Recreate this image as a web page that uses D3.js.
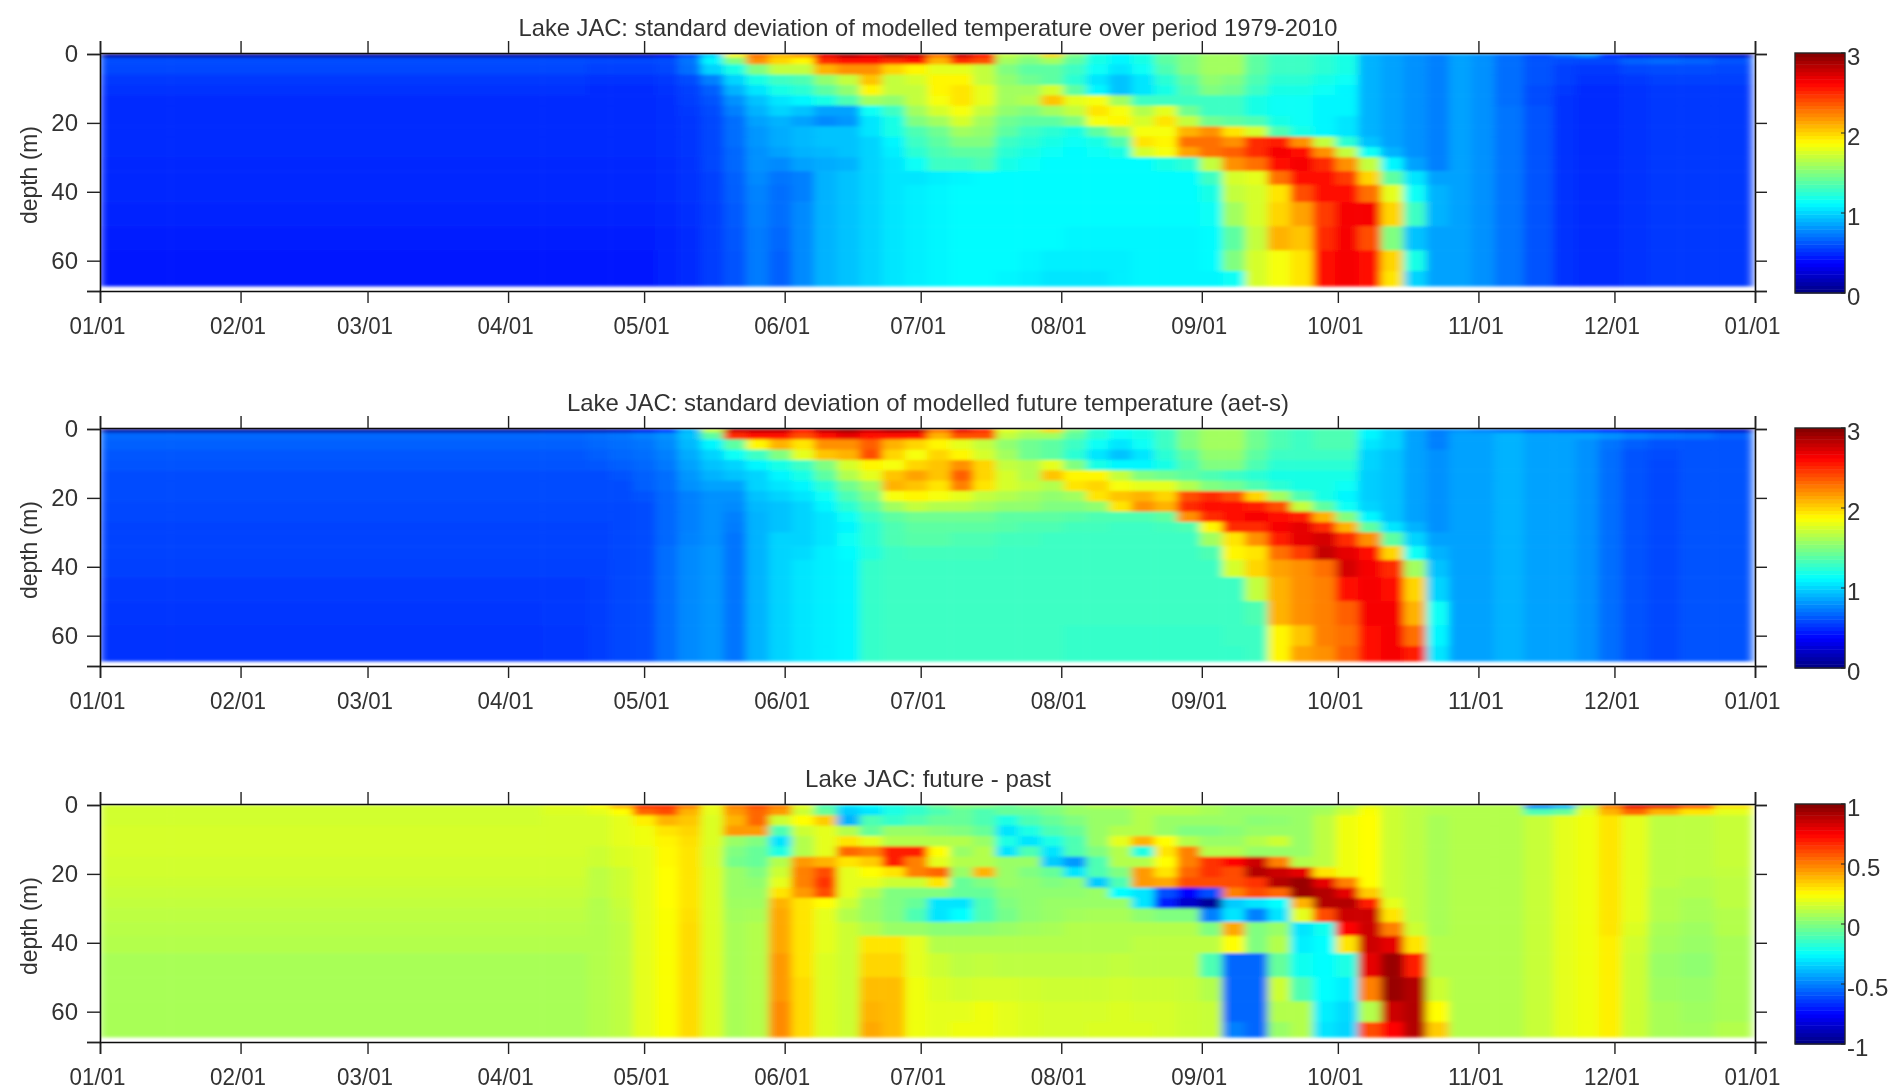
<!DOCTYPE html>
<html><head><meta charset="utf-8">
<script src="https://cdn.jsdelivr.net/npm/d3@7"></script>
<style>html,body{margin:0;background:#fff}svg{display:block}text{font-family:"Liberation Sans",Arial,sans-serif;fill:#333}</style>
</head><body><div id="c"></div>
<script>
const sampleDays=[0,31,59,90,105, 110,115,120,125,130,135,140,145, 150,155,160,165,170,175,180,185, 190,195,200,205,210,215,220,225, 230,235,240,245,250,255,260,265, 270,275,280,285,290,295,300,305, 310,318,323,328,333,338,345,352,360];
const depthEdges=[0,1,3,6,9,12,15,18,21,24,27,30,34,38,43,50,57,63,67.3];
const monthDays=[0,31,59,90,120,151,181,212,243,273,304,334,365];
const monthLabels=["01/01","02/01","03/01","04/01","05/01","06/01","07/01","08/01","09/01","10/01","11/01","12/01","01/01"];
const depthTicks=[0,20,40,60,68.8];
const titles=["Lake JAC: standard deviation of modelled temperature over period 1979-2010","Lake JAC: standard deviation of modelled future temperature (aet-s)","Lake JAC: future - past"];
const sdPast=[
[.1,.1,.1,.1,.12, .14,.14,.18,.3,.6,1,1.9,2.3, 2.1,2.2,2.7,2.9,2.75,2.95,2.8,2.3, 2.8,2.6,1.7,1.6,2,1.5,1.2,1.1, 1.2,1.4,1.5,1.6,1.6,1.4,1.3,1.3, 1.25,1.2,.9,.85,.8,.75,.85,.8, .7,.6,.7,.8,.5,.3,.25,.2,.2],
[.6,.6,.6,.6,.6, .58,.58,.58,.6,.72,1.1,1.5,2.2, 2,1.9,2.5,2.6,2.6,2.5,2.6,2.1, 2.5,2.4,1.6,1.5,1.6,1.4,1.2,1.1, 1.2,1.4,1.5,1.6,1.6,1.4,1.3,1.3, 1.25,1.2,.9,.85,.8,.75,.85,.8, .7,.62,.6,.58,.58,.66,.68,.66,.62],
[.58,.58,.58,.58,.58, .56,.56,.56,.58,.7,1,1.2,1.5, 1.7,1.7,2.1,2.2,2.2,2,1.9,1.8, 1.8,1.7,1.5,1.4,1.4,1.3,1.15,1.05, 1.15,1.35,1.5,1.6,1.6,1.4,1.3,1.3, 1.25,1.2,.9,.85,.8,.75,.85,.8, .7,.62,.56,.54,.54,.58,.6,.6,.58],
[.54,.54,.54,.54,.54, .52,.52,.52,.54,.6,.75,1,1.2, 1.3,1.35,1.55,1.7,2.05,1.7,1.75,1.9, 1.9,1.7,1.55,1.45,1.4,1.25,1.05,.95, 1.05,1.25,1.4,1.55,1.5,1.35,1.25,1.25, 1.2,1.15,.9,.85,.8,.75,.85,.8, .7,.62,.56,.52,.52,.54,.56,.56,.56],
[.52,.52,.52,.52,.52, .5,.5,.5,.52,.56,.65,.9,1.05, 1.2,1.25,1.4,1.55,1.9,1.7,1.7,1.9, 1.95,1.8,1.6,1.6,1.75,1.4,1.1,.95, 1.05,1.2,1.35,1.5,1.45,1.3,1.2,1.2, 1.15,1.1,.9,.85,.8,.75,.85,.8, .7,.6,.54,.5,.5,.52,.54,.54,.54],
[.5,.5,.5,.5,.5, .5,.5,.5,.51,.55,.62,.8,.95, 1.05,1.1,1.2,1.35,1.6,1.55,1.7,1.85, 1.95,1.8,1.6,1.65,2.05,1.8,1.85,1.6, 1.3,1.3,1.3,1.3,1.3,1.2,1.15,1.15, 1.1,1.1,.9,.85,.8,.75,.85,.8, .7,.6,.52,.5,.5,.52,.54,.54,.54],
[.5,.5,.5,.5,.5, .5,.5,.5,.51,.54,.6,.75,.9, 1,.95,.85,.85,1.15,1.3,1.6,1.75, 1.85,1.7,1.55,1.5,1.6,1.7,1.95,1.85, 1.65,1.8,1.45,1.3,1.3,1.2,1.15,1.15, 1.1,1.1,.9,.85,.8,.75,.85,.8, .72,.62,.52,.5,.5,.52,.54,.54,.54],
[.5,.5,.5,.5,.5, .5,.5,.5,.51,.53,.58,.7,.85, .9,.85,.78,.82,1.05,1.2,1.5,1.6, 1.75,1.6,1.45,1.4,1.4,1.5,1.85,1.9, 1.75,1.95,1.7,1.45,1.4,1.35,1.2,1.15, 1.1,1.05,.9,.85,.8,.75,.85,.8, .72,.62,.52,.5,.5,.52,.54,.54,.54],
[.5,.5,.5,.5,.5, .5,.5,.5,.51,.53,.58,.7,.82, .88,.92,.95,.95,1.05,1.2,1.35,1.45, 1.6,1.55,1.4,1.3,1.25,1.2,1.4,1.6, 1.85,1.85,2.1,2.2,1.95,1.75,1.35,1.2, 1.1,1.05,.9,.85,.8,.75,.85,.8, .72,.62,.52,.5,.5,.52,.54,.54,.54],
[.5,.5,.5,.5,.5, .5,.5,.5,.51,.53,.58,.7,.82, .88,.92,.95,.95,1,1.1,1.3,1.4, 1.5,1.5,1.3,1.25,1.2,1.15,1.2,1.35, 1.95,1.9,2.3,2.3,2.2,2.5,2.55,2.2, 1.7,1.25,.95,.85,.8,.75,.85,.8, .72,.62,.52,.5,.5,.52,.54,.54,.54],
[.5,.5,.5,.5,.5, .5,.5,.5,.51,.53,.58,.68,.8, .85,.9,.92,.95,1,1.08,1.25,1.35, 1.4,1.4,1.25,1.2,1.15,1.12,1.15,1.2, 1.75,1.85,2.15,2.3,2.35,2.5,2.65,2.6, 2.2,1.7,1.15,.9,.8,.75,.85,.8, .72,.62,.52,.5,.5,.52,.54,.54,.54],
[.49,.49,.49,.49,.49, .49,.49,.49,.5,.52,.58,.68,.8, .78,.85,.88,.9,1,1.05,1.15,1.3, 1.3,1.35,1.2,1.15,1.12,1.12,1.12,1.12, 1.12,1.2,1.25,1.7,2.2,2.3,2.6,2.65, 2.5,2.2,1.7,1.1,.85,.75,.85,.8, .72,.62,.52,.5,.5,.52,.54,.54,.54],
[.49,.49,.49,.49,.49, .49,.49,.49,.5,.52,.56,.66,.78, .72,.75,.9,.95,1,1.05,1.05,1.08, 1.1,1.12,1.12,1.12,1.12,1.12,1.12,1.12, 1.12,1.12,1.12,1.3,1.75,1.8,2.3,2.6, 2.6,2.45,2,1.4,1.05,.85,.85,.8, .72,.62,.52,.5,.5,.52,.54,.54,.54],
[.49,.49,.49,.49,.49, .49,.49,.49,.5,.52,.56,.65,.76, .7,.75,.9,.95,1,1.05,1.08,1.1, 1.12,1.12,1.12,1.12,1.12,1.12,1.12,1.12, 1.12,1.12,1.12,1.2,1.7,1.75,1.95,2.4, 2.6,2.6,2.3,1.8,1.15,.9,.85,.8, .72,.62,.52,.5,.5,.52,.54,.54,.54],
[.48,.48,.48,.48,.48, .48,.48,.48,.49,.51,.55,.64,.75, .7,.78,.9,.95,1,1.05,1.08,1.1, 1.12,1.12,1.12,1.12,1.12,1.12,1.12,1.12, 1.12,1.12,1.12,1.15,1.6,1.75,2,2.15, 2.45,2.65,2.65,2,1.3,.9,.85,.8, .72,.62,.52,.5,.5,.52,.54,.54,.54],
[.46,.46,.46,.46,.46, .46,.46,.46,.48,.5,.55,.63,.74, .68,.78,.9,.95,1,1.05,1.08,1.1, 1.12,1.12,1.12,1.12,1.12,1.1,1.1,1.1, 1.1,1.1,1.1,1.12,1.4,1.7,2.1,2.05, 2.5,2.65,2.4,1.5,.95,.85,.85,.8, .72,.62,.52,.5,.5,.52,.54,.54,.54],
[.45,.45,.45,.45,.45, .45,.45,.45,.47,.5,.55,.62,.74, .66,.78,.9,.95,1,1.05,1.08,1.1, 1.12,1.12,1.12,1.1,1.08,1.08,1.08,1.08, 1.1,1.1,1.1,1.12,1.5,1.75,1.85,1.95, 2.6,2.65,2.6,2,1.2,.85,.85,.8, .72,.62,.52,.5,.5,.52,.54,.54,.54],
[.45,.45,.45,.45,.45, .45,.45,.45,.47,.5,.55,.62,.74, .66,.78,.9,.95,1,1.05,1.08,1.1, 1.12,1.12,1.1,1.08,1.05,1.05,1.05,1.08, 1.1,1.1,1.1,1.1,1.15,1.75,1.85,1.95, 2.6,2.65,2.6,1.95,1,.85,.85,.8, .72,.62,.52,.5,.5,.52,.54,.54,.54]
];
const sdFuture=[
[.1,.1,.1,.1,.15, .15,.2,.3,.5,.9,1.7,2.8,2.85, 2.85,2.6,2.85,2.95,2.8,2.9,2.85,2.3, 2.7,2.5,1.8,1.7,2,1.5,1.25,1.15, 1.2,1.3,1.5,1.6,1.6,1.45,1.35,1.3, 1.35,1.35,1.1,1,.85,.75,.8,.75, .7,.6,.55,.5,.45,.35,.3,.25,.2],
[.68,.68,.68,.68,.68, .7,.72,.75,.8,.95,1.4,2.5,2.6, 2.6,2.4,2.6,2.7,2.6,2.6,2.6,2.1, 2.4,2.4,1.7,1.6,1.6,1.4,1.25,1.15, 1.2,1.3,1.5,1.6,1.6,1.45,1.35,1.3, 1.35,1.35,1.1,1,.85,.75,.85,.85, .9,.85,.85,.85,.8,.75,.72,.7,.65],
[.66,.66,.66,.66,.66, .68,.7,.72,.78,.92,1.1,1.4,1.9, 2.1,1.95,2.2,2.2,2.35,2.1,2,1.9, 1.8,1.7,1.55,1.45,1.4,1.3,1.15,1.05, 1.15,1.3,1.5,1.6,1.6,1.45,1.35,1.3, 1.35,1.35,1.05,1,.85,.75,.85,.85, .9,.85,.85,.8,.72,.65,.62,.62,.62],
[.63,.63,.63,.63,.63, .65,.68,.7,.75,.88,1,1.15,1.3, 1.5,1.8,2.05,2.1,2.4,2,1.85,2, 1.9,1.75,1.6,1.45,1.4,1.25,1.05,.95, 1.05,1.25,1.4,1.55,1.55,1.4,1.3,1.3, 1.3,1.3,1,.95,.85,.8,.85,.85, .9,.85,.85,.8,.7,.62,.6,.62,.62],
[.62,.62,.62,.62,.62, .63,.65,.68,.73,.85,.95,1,1.1, 1.2,1.3,1.5,1.75,1.9,1.85,2,2.05, 2.2,2,1.7,1.65,1.8,1.5,1.2,1.1, 1.1,1.2,1.35,1.5,1.5,1.35,1.25,1.25, 1.25,1.25,1,.95,.85,.8,.85,.85, .9,.85,.85,.8,.7,.62,.58,.62,.62],
[.6,.6,.6,.6,.6, .6,.62,.66,.7,.82,.9,.95,1, 1.1,1.2,1.4,1.65,1.8,2.05,2.15,2.05, 2.35,2,1.75,1.65,2.05,1.9,1.9,1.7, 1.5,1.45,1.4,1.35,1.3,1.25,1.2,1.2, 1.2,1.2,.98,.95,.85,.8,.85,.85, .9,.85,.85,.8,.7,.62,.58,.62,.62],
[.6,.6,.6,.6,.6, .6,.6,.65,.7,.8,.85,.85,1, 1.05,1.1,1.25,1.45,1.6,2.1,2.05,1.95, 2.25,1.95,1.75,1.7,1.65,1.95,2,1.85, 1.8,1.8,1.65,1.5,1.45,1.35,1.25,1.2, 1.2,1.15,.98,.95,.85,.8,.85,.85, .9,.85,.85,.8,.7,.62,.58,.62,.62],
[.6,.6,.6,.6,.6, .6,.6,.62,.68,.75,.8,.8,.95, 1,1.05,1.15,1.35,1.5,1.85,1.9,1.85, 1.8,1.7,1.65,1.6,1.55,1.6,1.95,2.05, 2.1,2,2.4,2.5,2.4,2,1.6,1.35, 1.2,1.1,.98,.95,.85,.8,.85,.85, .9,.85,.85,.8,.7,.62,.58,.62,.62],
[.58,.58,.58,.58,.58, .58,.58,.6,.68,.75,.8,.78,.92, .95,1,1.1,1.25,1.4,1.6,1.7,1.65, 1.65,1.6,1.55,1.55,1.5,1.5,1.55,1.95, 2.2,2.1,2.5,2.6,2.6,2.55,2.4,1.7, 1.4,1.15,1,.95,.85,.8,.85,.85, .9,.85,.85,.8,.7,.62,.58,.62,.62],
[.58,.58,.58,.58,.58, .58,.58,.6,.68,.75,.8,.75,.9, .95,1,1.05,1.15,1.3,1.4,1.45,1.45, 1.45,1.45,1.4,1.4,1.4,1.38,1.35,1.35, 1.35,1.4,2.2,2.5,2.6,2.65,2.6,2.55, 2.1,1.5,1.1,.95,.85,.8,.85,.85, .9,.85,.85,.8,.7,.62,.58,.62,.62],
[.57,.57,.57,.57,.57, .57,.58,.6,.68,.75,.8,.74,.9, .95,1,1.05,1.1,1.25,1.35,1.4,1.4, 1.4,1.4,1.38,1.35,1.35,1.32,1.32,1.3, 1.3,1.32,1.35,1.9,2.5,2.5,2.65,2.7, 2.5,2.1,1.4,1.05,.9,.8,.85,.85, .9,.85,.85,.8,.7,.62,.58,.62,.62],
[.57,.57,.57,.57,.57, .57,.58,.6,.68,.76,.8,.72,.9, 1,1,1.05,1.15,1.25,1.35,1.38,1.38, 1.35,1.35,1.32,1.32,1.3,1.3,1.3,1.3, 1.3,1.3,1.3,1.6,1.95,2.2,2.55,2.7, 2.75,2.5,2.2,1.4,1,.85,.85,.85, .9,.85,.85,.8,.7,.62,.58,.62,.62],
[.57,.57,.57,.57,.57, .57,.58,.6,.7,.78,.82,.72,.9, 1,1.02,1.08,1.12,1.22,1.3,1.32,1.32, 1.32,1.32,1.3,1.3,1.3,1.3,1.3,1.3, 1.3,1.3,1.3,1.35,1.9,1.95,2.3,2.45, 2.8,2.7,2.6,2,1.15,.9,.85,.85, .9,.85,.85,.8,.7,.62,.58,.62,.62],
[.56,.56,.56,.56,.56, .56,.58,.6,.7,.78,.82,.72,.9, 1,1.05,1.08,1.1,1.28,1.3,1.3,1.3, 1.3,1.3,1.3,1.3,1.3,1.3,1.3,1.3, 1.3,1.3,1.3,1.3,1.75,2,2.15,2.2, 2.3,2.75,2.65,2.5,1.6,.95,.85,.85, .9,.85,.85,.8,.7,.62,.58,.62,.62],
[.54,.54,.54,.54,.54, .55,.58,.6,.7,.78,.82,.72,.9, 1,1.05,1.08,1.1,1.28,1.3,1.3,1.3, 1.3,1.3,1.3,1.3,1.3,1.3,1.3,1.3, 1.3,1.3,1.3,1.3,1.3,1.7,2.1,2.2, 2.25,2.6,2.65,2.6,2,1,.85,.85, .9,.85,.85,.8,.7,.62,.58,.62,.62],
[.53,.53,.53,.53,.54, .55,.58,.6,.7,.78,.82,.72,.9, 1,1.05,1.08,1.1,1.28,1.3,1.3,1.3, 1.3,1.3,1.3,1.3,1.3,1.3,1.3,1.3, 1.3,1.3,1.3,1.3,1.3,1.35,2.1,2.2, 2.25,2.35,2.65,2.65,2.1,1.15,.85,.85, .9,.85,.85,.8,.7,.62,.58,.62,.62],
[.52,.52,.52,.52,.53, .55,.58,.6,.7,.78,.82,.72,.9, 1,1.05,1.08,1.1,1.28,1.3,1.3,1.3, 1.3,1.3,1.3,1.3,1.3,1.28,1.28,1.28, 1.28,1.28,1.28,1.28,1.3,1.3,1.9,2.05, 2.25,2.3,2.6,2.65,2.3,1.1,.85,.85, .9,.85,.85,.8,.7,.62,.58,.62,.62],
[.52,.52,.52,.52,.53, .55,.58,.6,.7,.78,.82,.72,.9, 1,1.05,1.08,1.1,1.28,1.3,1.3,1.3, 1.3,1.3,1.3,1.3,1.3,1.28,1.28,1.28, 1.28,1.28,1.28,1.28,1.28,1.3,1.9,2.15, 2.2,2.35,2.6,2.65,2.55,1.05,.85,.85, .9,.85,.85,.8,.7,.62,.58,.62,.62]
];
const sdDiff=[
[.16,.16,.16,.16,.2, .25,.4,.65,.65,.5,.22,.5,.6, .5,.2,-.1,-.3,-.25,-.2,-.15,-.05, 0,0,-.05,0,0,.05,.1,.1, .12,.12,.1,.08,.05,.05,.05,.05, .05,.1,.2,.15,.12,.1,.1,.1, .1,-.5,-.4,.1,.5,.8,.8,.6,.3],
[.16,.16,.16,.16,.18, .2,.25,.55,.6,.4,.2,.45,.55, .45,.15,-.05,-.35,-.3,-.2,-.15,-.1, -.05,-.1,-.05,-.05,0,.05,.05,.05, .1,.1,.1,.08,.05,.05,.05,.05, .08,.15,.24,.15,.12,.1,.1,.1, .1,-.1,-.05,.2,.4,.55,.4,.3,.2],
[.16,.16,.16,.16,.17, .17,.2,.28,.4,.36,.18,.4,.55, .15,.25,.35,-.4,-.1,-.15,-.1,-.05, -.05,-.1,-.2,-.1,-.05,0,.05,.05, .1,.05,.05,.05,.05,.02,.03,.05, .12,.22,.25,.15,.12,.08,.1,.1, .1,.14,.2,.22,.3,.2,.12,.12,.14],
[.17,.17,.17,.17,.17, .17,.2,.22,.3,.33,.18,.45,.45, -.1,.15,.2,.1,-.05,.05,.05,.02, 0,-.05,-.3,-.2,-.1,-.05,.05,.1, .1,.05,0,0,.02,.05,.05,.05, .12,.22,.25,.15,.12,.08,.1,.1, .1,.14,.2,.22,.3,.2,.12,.12,.14],
[.17,.17,.17,.17,.17, .17,.2,.22,.27,.31,.18,.05,0, -.3,.1,.2,.3,.2,.1,.1,.1, .1,.05,-.2,-.3,-.2,-.1,.05,.2, .4,.25,.1,.05,.05,.1,.15,.05, .12,.22,.25,.15,.12,.08,.1,.1, .1,.14,.2,.22,.3,.2,.12,.12,.14],
[.17,.17,.17,.17,.17, .15,.18,.2,.26,.3,.17,0,-.05, -.2,.1,.2,.55,.5,.7,.7,.25, .05,.1,-.3,-.1,-.3,-.1,0,.1, -.2,.3,.5,.1,.1,.05,.05,.05, .12,.22,.25,.15,.12,.08,.1,.1, .1,.14,.2,.22,.3,.2,.12,.12,.14],
[.16,.16,.16,.16,.16, .15,.18,.2,.26,.3,.17,-.02,-.05, .1,.45,.4,.3,.35,.7,.5,.2, .1,.1,.05,.05,-.35,-.45,-.1,.1, .1,.25,.5,.65,.75,.85,.5,.1, .12,.22,.25,.15,.12,.08,.1,.1, .1,.14,.2,.22,.3,.2,.12,.12,.14],
[.16,.16,.16,.16,.16, .12,.15,.2,.25,.3,.18,.05,0, .15,.5,.6,.2,.25,.3,.5,.55, .05,.4,.05,0,-.05,-.3,-.1,0, .45,.3,.55,.65,.6,.9,.85,.8, .3,.22,.25,.15,.12,.08,.1,.1, .1,.14,.2,.22,.3,.2,.12,.12,.13],
[.15,.15,.15,.15,.15, .12,.15,.2,.25,.3,.18,.05,.03, .2,.5,.65,.2,.2,.15,.15,.3, -.05,0,.05,.03,0,.02,-.35,-.1, .45,.42,.6,.6,.6,.65,.9,.95, .8,.5,.25,.15,.12,.08,.1,.1, .1,.14,.2,.22,.3,.2,.12,.1,.12],
[.14,.14,.14,.14,.14, .12,.15,.2,.25,.3,.18,.05,.05, .3,.45,.6,.2,.1,0,0,0, -.05,-.05,.02,.03,.03,.03,.05,-.25, -.3,-.6,-.75,-.6,.5,.6,.55,.95, .9,.8,.35,.15,.12,.08,.1,.1, .1,.14,.2,.22,.3,.2,.1,.1,.12],
[.13,.13,.13,.13,.13, .1,.14,.2,.25,.3,.18,.06,.06, .4,.3,.25,.15,.05,0,-.05,-.3, -.3,-.1,0,.03,.05,.05,.05,.05, -.3,-.7,-.85,-.95,-.35,-.3,-.25,.4, .9,.9,.7,.2,.12,.08,.1,.1, .1,.14,.2,.22,.3,.2,.1,.08,.12],
[.12,.12,.12,.12,.12, .1,.13,.2,.24,.31,.18,.07,.08, .42,.3,.2,.1,.05,0,-.1,-.3, -.25,-.1,-.02,.03,.05,.07,.08,.08, .03,0,0,-.5,-.3,-.5,-.3,.2, .6,.85,.85,.3,.12,.08,.1,.1, .1,.14,.2,.22,.3,.2,.1,.08,.1],
[.11,.11,.11,.11,.11, .1,.12,.2,.24,.32,.18,.08,.1, .42,.3,.2,.15,.1,.05,.05,.02, .02,.03,.05,.07,.08,.1,.1,.1, .1,.1,.1,0,.42,0,.05,-.3, -.22,.75,.85,.5,.15,.08,.1,.1, .1,.14,.2,.22,.3,.18,.08,.06,.1],
[.1,.1,.1,.1,.1, .1,.12,.2,.24,.32,.18,.08,.1, .42,.3,.2,.15,.3,.3,.2,.1, .1,.1,.1,.1,.1,.1,.1,.1, .12,.12,.12,.12,.25,0,.1,-.28, -.25,.3,.85,.8,.3,.1,.1,.1, .1,.14,.2,.22,.28,.16,.07,.05,.08],
[.08,.08,.08,.08,.08, .1,.12,.2,.24,.32,.18,.08,.1, .45,.3,.18,.15,.33,.33,.2,.15, .12,.13,.12,.12,.12,.12,.12,.13, .12,.12,.12,-.1,-.55,-.55,-.05,-.22, -.25,-.2,.8,.95,.7,.1,.1,.1, .1,.14,.2,.22,.28,.15,.05,.03,.08],
[.08,.08,.08,.08,.08, .1,.12,.2,.24,.32,.18,.08,.1, .45,.32,.18,.15,.38,.38,.22,.18, .16,.17,.17,.16,.15,.15,.15,.16, .15,.15,.14,.1,-.55,-.55,.15,-.1, -.25,-.28,.5,.95,.9,.15,.1,.1, .1,.14,.2,.22,.28,.15,.06,.05,.08],
[.08,.08,.08,.08,.08, .1,.12,.2,.24,.32,.18,.08,.1, .48,.32,.18,.15,.4,.38,.22,.2, .2,.22,.2,.18,.17,.17,.17,.18, .17,.17,.15,.14,-.55,-.55,.1,.1, -.28,-.32,.1,.85,.9,.25,.1,.1, .1,.14,.2,.22,.28,.15,.08,.06,.08],
[.08,.08,.08,.08,.08, .1,.12,.2,.24,.32,.18,.08,.1, .48,.32,.18,.15,.42,.38,.22,.2, .22,.22,.2,.18,.17,.17,.18,.18, .18,.17,.15,.14,-.5,-.55,.05,.1, -.3,-.33,.6,.75,.9,.35,.1,.1, .1,.14,.2,.22,.28,.15,.08,.07,.1]
];
const panels=[
 {top:53,title:titles[0],titleW:819,titleY:27,values:sdPast,cmin:0,cmax:3,cticks:[0,1,2,3]},
 {top:428,title:titles[1],titleW:722,titleY:402,values:sdFuture,cmin:0,cmax:3,cticks:[0,1,2,3]},
 {top:804,title:titles[2],titleW:246,titleY:778,values:sdDiff,cmin:-1,cmax:1,cticks:[-1,-.5,0,.5,1]}
];
const jetStops=[0,1/8,3/8,5/8,7/8,1], jetCols=["#000080","#0000ff","#00ffff","#ffff00","#ff0000","#800000"];
const jet=d3.scaleLinear().domain(jetStops).range(jetCols).clamp(true);
const W=1889,H=1090,L=100,R=1755,PH=238,BX=1795,BW=50,BH=240;
const svg=d3.select("#c").append("svg").attr("width",W).attr("height",H);
const defs=svg.append("defs");
const fh=defs.append("filter").attr("id","soft").attr("x",-.02).attr("y",-.05).attr("width",1.04).attr("height",1.1);
fh.append("feGaussianBlur").attr("stdDeviation","4.5 1.6");
const ft=defs.append("filter").attr("id","ink").attr("x",-.05).attr("y",-.1).attr("width",1.1).attr("height",1.2);
ft.append("feGaussianBlur").attr("stdDeviation",.5);
const x=d3.scaleLinear().domain([0,365]).range([L,R]);
const xEdges=sampleDays.map((d,i)=>i?(sampleDays[i-1]+d)/2:0).concat([364.3]);
const fs="24px";
panels.forEach((p,pi)=>{
  const y=d3.scaleLinear().domain([0,68.8]).range([p.top+1,p.top+PH]);
  const color=v=>jet((v-p.cmin)/(p.cmax-p.cmin));
  const g=svg.append("g");
  const clipId="clip"+pi;
  defs.append("clipPath").attr("id",clipId).append("rect").attr("x",L).attr("y",p.top).attr("width",R-L).attr("height",PH);
  const cells=[];
  p.values.forEach((row,r)=>row.forEach((v,c)=>cells.push({r,c,v})));
  g.append("g").attr("clip-path",`url(#${clipId})`).append("g").attr("filter","url(#soft)")
   .selectAll("rect").data(cells).join("rect")
   .attr("x",d=>x(xEdges[d.c])).attr("width",d=>x(xEdges[d.c+1])-x(xEdges[d.c])+.6)
   .attr("y",d=>y(depthEdges[d.r])).attr("height",d=>y(depthEdges[d.r+1])-y(depthEdges[d.r])+.6)
   .attr("fill",d=>color(d.v));
  const ink=g.append("g").attr("filter","url(#ink)");
  const fmtX=(d,i)=>monthLabels[i];
  const style=a=>{a.selectAll("line").attr("stroke","#222").attr("stroke-width",1.4);a.selectAll(".domain").attr("stroke","#111").attr("stroke-width",1.6);a.selectAll("text").style("font-size",fs).attr("fill","#333");};
  ink.append("g").attr("transform",`translate(0,${p.top+PH})`)
    .call(d3.axisBottom(x).tickValues(monthDays).tickFormat(fmtX).tickSizeOuter(0).tickSize(12).tickPadding(14)).call(style)
    .selectAll("text").attr("dx",-3).attr("textLength",56).attr("lengthAdjust","spacingAndGlyphs");
  ink.append("g").attr("transform",`translate(0,${p.top})`)
    .call(d3.axisTop(x).tickValues(monthDays).tickFormat("").tickSizeOuter(0).tickSize(12)).call(style);
  const yFmt=d=>d>60?"":String(d);
  ink.append("g").attr("transform",`translate(${L},0)`)
    .call(d3.axisLeft(y).tickValues(depthTicks).tickFormat(yFmt).tickSizeOuter(0).tickSize(13).tickPadding(9)).call(style);
  ink.append("g").attr("transform",`translate(${R},0)`)
    .call(d3.axisRight(y).tickValues(depthTicks).tickFormat("").tickSizeOuter(0).tickSize(12)).call(style);
  ink.append("text").attr("x",928).attr("y",p.titleY).attr("text-anchor","middle").attr("dominant-baseline","central")
    .style("font-size",fs).attr("textLength",p.titleW).attr("lengthAdjust","spacingAndGlyphs").text(p.title);
  ink.append("text").attr("transform",`translate(28,${p.top+122}) rotate(-90)`).attr("text-anchor","middle").attr("dominant-baseline","central")
    .style("font-size",fs).attr("textLength",98).attr("lengthAdjust","spacingAndGlyphs").text("depth (m)");
  const cy=d3.scaleLinear().domain([p.cmin,p.cmax]).range([p.top+BH,p.top]);
  const steps=d3.range(64);
  g.append("g").selectAll("rect").data(steps).join("rect").attr("x",BX).attr("width",BW)
    .attr("y",i=>cy(p.cmin+(i+1)/64*(p.cmax-p.cmin))).attr("height",BH/64+.5)
    .attr("fill",i=>jet((i+.5)/64));
  const ci=g.append("g").attr("filter","url(#ink)");
  ci.append("rect").attr("x",BX).attr("y",p.top).attr("width",BW).attr("height",BH).attr("fill","none").attr("stroke","#222").attr("stroke-width",1.4);
  ci.selectAll("text").data(p.cticks).join("text").attr("x",BX+BW+2).attr("y",d=>cy(d)+3).attr("dominant-baseline","central")
    .style("font-size",fs).text(d=>String(d));
  ci.selectAll("line").data(p.cticks).join("line").attr("x1",BX+BW-4).attr("x2",BX+BW).attr("y1",d=>cy(d)).attr("y2",d=>cy(d)).attr("stroke","#222");
});
</script></body></html>
